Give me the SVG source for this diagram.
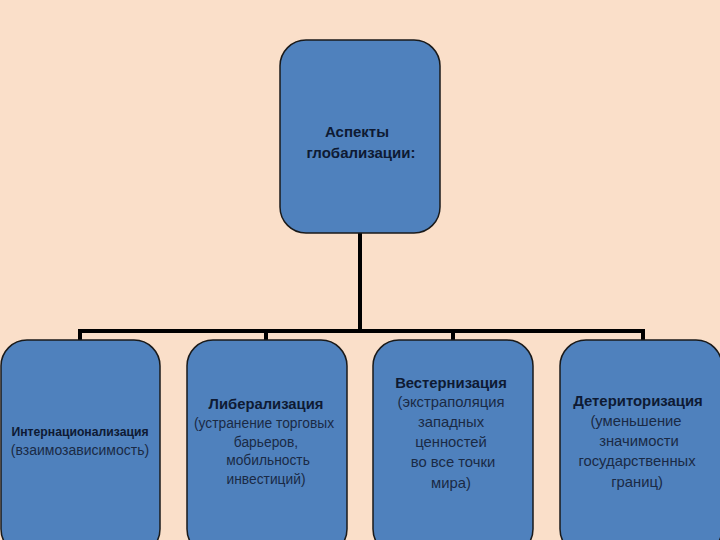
<svg xmlns="http://www.w3.org/2000/svg" width="720" height="540" viewBox="0 0 720 540">
<style>
.box{fill:#4F81BD;stroke:#1a1a1a;stroke-width:1.5}
.conn{fill:none;stroke:#000;stroke-width:4}
text{font-family:"Liberation Sans",Arial,sans-serif;fill:#0E1A33;text-anchor:middle}
.b{font-weight:bold}
.s{font-size:14.8px;fill:#1a2a45}
</style>
<rect width="720" height="540" fill="#FADFC9"/>
<g id="connectors">
<path class="conn" d="M360,233 V331 M80,331 H643 M80,329 V341 M266,329 V341 M453,329 V341 M643,329 V341"/>
</g>
<g id="root">
<rect class="box" x="280" y="40" width="160" height="193" rx="26"/>
<text class="b" font-size="15" x="357" y="137">Аспекты</text>
<text class="b" font-size="15" x="361" y="158">глобализации:</text>
</g>
<g id="n1">
<rect class="box" x="1" y="340" width="159" height="215" rx="26"/>
<text class="b" font-size="12.2" x="80" y="436">Интернационализация</text>
<text font-size="14" x="80" y="455" style="fill:#1a2a45">(взаимозависимость)</text>
</g>
<g id="n2">
<rect class="box" x="187" y="340" width="160" height="215" rx="26"/>
<text class="b" font-size="14.8" x="266" y="409">Либерализация</text>
<text font-size="13.8" x="264" y="428" style="fill:#1a2a45">(устранение торговых</text>
<text font-size="13.8" x="266" y="447" style="fill:#1a2a45">барьеров,</text>
<text font-size="13.8" x="268" y="465" style="fill:#1a2a45">мобильность</text>
<text font-size="13.8" x="266" y="484" style="fill:#1a2a45">инвестиций)</text>
</g>
<g id="n3">
<rect class="box" x="373" y="340" width="160" height="215" rx="26"/>
<text class="b" font-size="14.8" x="451" y="388">Вестернизация</text>
<text class="s" x="451" y="407">(экстраполяция</text>
<text class="s" x="451" y="427">западных</text>
<text class="s" x="451" y="447">ценностей</text>
<text class="s" x="453" y="467">во все точки</text>
<text class="s" x="451" y="488">мира)</text>
</g>
<g id="n4">
<rect class="box" x="560" y="340" width="162" height="215" rx="26"/>
<text class="b" font-size="14.9" x="638" y="406">Детериторизация</text>
<text class="s" x="636" y="426">(уменьшение</text>
<text class="s" x="639" y="446">значимости</text>
<text class="s" x="637" y="466">государственных</text>
<text class="s" x="637" y="487">границ)</text>
</g>
</svg>
